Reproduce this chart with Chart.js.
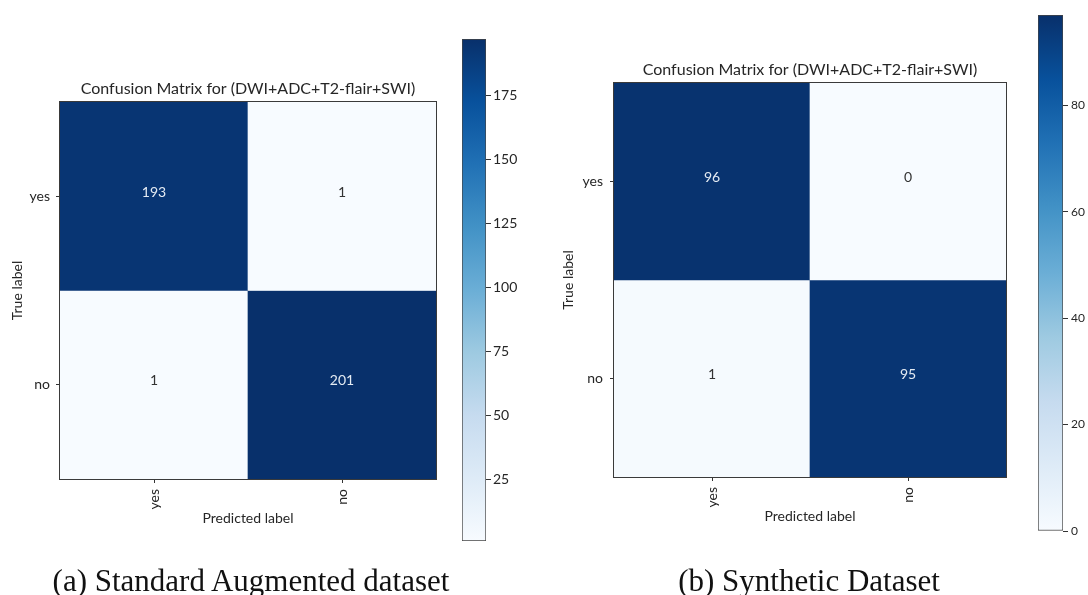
<!DOCTYPE html>
<html>
<head>
<meta charset="utf-8">
<script src="https://cdn.jsdelivr.net/npm/chart.js@4.4.1/dist/chart.umd.min.js"></script>
<style>
  html, body { margin: 0; padding: 0; background: #fff; overflow: hidden; }
  #page { position: relative; width: 1088px; height: 595px; overflow: hidden; background: #fff; }
  canvas { position: absolute; top: 0; }
  .cap { position: absolute; top: 565px; font-family: 'Liberation Serif', 'Times New Roman', serif;
         font-size: 31px; line-height: 31px; color: #111; white-space: nowrap; transform: translateX(-50%); }
</style>
</head>
<body>
<div id="page">
  <canvas id="cmA" width="1088" height="595" style="left:0"></canvas>
  <canvas id="cbA" width="110" height="595" style="left:440px"></canvas>
  <canvas id="cmB" width="1088" height="595" style="left:0"></canvas>
  <canvas id="cbB" width="120" height="595" style="left:1010px"></canvas>
  <div class="cap" style="left:251px">(a) Standard Augmented dataset</div>
  <div class="cap" style="left:809px">(b) Synthetic Dataset</div>
</div>
<script>
// ---- values ----
const predictedLabels = ['yes', 'no'];
const trueLabels = ['yes', 'no'];
const matrixStandard = [[193, 1], [1, 201]];
const matrixSynthetic = [[96, 0], [1, 95]];
const titleText = 'Confusion Matrix for (DWI+ADC+T2-flair+SWI)';
const colorbarRangeStandard = [1, 197];
const colorbarRangeSynthetic = [0, 97];
const colorbarTicksStandard = [25, 50, 75, 100, 125, 150, 175];
const colorbarTicksSynthetic = [0, 20, 40, 60, 80];

// ---- styling ----
const BLUES = ['#f7fbff', '#deebf7', '#c6dbef', '#9ecae1', '#6baed6',
               '#4292c6', '#2171b5', '#08519c', '#08306b'];
const FONT = 'Lato, "Open Sans", sans-serif';
const INK = '#262626';

function hexToRgb(h) {
  return [parseInt(h.slice(1, 3), 16), parseInt(h.slice(3, 5), 16), parseInt(h.slice(5, 7), 16)];
}
function blues(t) {
  t = Math.max(0, Math.min(1, t));
  const pos = t * (BLUES.length - 1);
  const i = Math.min(Math.floor(pos), BLUES.length - 2);
  const f = pos - i;
  const a = hexToRgb(BLUES[i]), b = hexToRgb(BLUES[i + 1]);
  const c = a.map((v, k) => Math.round(v + (b[k] - v) * f));
  return `rgb(${c[0]},${c[1]},${c[2]})`;
}
function norm(v, range) { return Math.max(0, Math.min(1, (v - range[0]) / (range[1] - range[0]))); }

// numbers written in the middle of each cell
const cellText = {
  id: 'cellText',
  afterDatasetsDraw(chart) {
    const ctx = chart.ctx;
    ctx.save();
    ctx.font = `14px ${FONT}`;
    ctx.textAlign = 'center';
    ctx.textBaseline = 'middle';
    chart.data.datasets.forEach((ds, i) => {
      chart.getDatasetMeta(i).data.forEach((el, j) => {
        const v = ds.counts[j];
        ctx.fillStyle = norm(v, ds.range) > 0.5 ? '#e4ebf3' : '#333';
        ctx.fillText(String(v), el.x, (el.y + el.base) / 2 - 4);
      });
    });
    ctx.restore();
  }
};

// thin box around the plotting area
const frame = {
  id: 'frame',
  afterDatasetsDraw(chart) {
    const a = chart.chartArea, ctx = chart.ctx;
    ctx.save();
    ctx.strokeStyle = '#3a3a3a';
    ctx.lineWidth = 1;
    ctx.strokeRect(Math.round(a.left) - 0.5, Math.round(a.top) - 0.5,
                   Math.round(a.right - a.left) + 1, Math.round(a.bottom - a.top) + 1);
    ctx.restore();
  }
};

function matrixChart(id, matrix, range, box) {
  const yW = box.yW, xH = 48, titleH = 16 * 1.2 + 4;
  const datasets = trueLabels.map((t, r) => ({
    label: t,
    data: predictedLabels.map(() => [r, r + 1]),
    counts: matrix[r],
    range: range,
    backgroundColor: matrix[r].map(v => blues(norm(v, range))),
    borderWidth: 0,
    grouped: false,
    barPercentage: 1,
    categoryPercentage: 1
  }));
  return new Chart(document.getElementById(id), {
    type: 'bar',
    data: { labels: predictedLabels, datasets },
    plugins: [cellText, frame],
    options: {
      responsive: false,
      animation: false,
      events: [],
      layout: {
        padding: { left: box.l - yW, top: box.t - titleH, right: 1088 - box.r, bottom: 595 - box.b - xH }
      },
      plugins: {
        legend: { display: false },
        tooltip: { enabled: false },
        title: {
          display: true, text: titleText, fullSize: false, color: INK,
          font: { family: FONT, size: 16, weight: 'normal' },
          padding: { top: 0, bottom: 4 }
        }
      },
      scales: {
        x: {
          offset: true,
          afterFit: s => { s.height = xH; },
          ticks: { minRotation: 90, maxRotation: 90, padding: 6, color: INK, font: { family: FONT, size: 14 } },
          grid: { offset: false, drawOnChartArea: false, tickLength: 4, color: '#333' },
          border: { display: false },
          title: { display: true, text: 'Predicted label', color: INK, font: { family: FONT, size: 14 }, padding: 0 }
        },
        y: {
          min: 0, max: 2, reverse: true,
          afterBuildTicks: s => { s.ticks = trueLabels.map((_, i) => ({ value: i + 0.5 })); },
          afterFit: s => { s.width = yW; },
          ticks: { callback: (v, i) => trueLabels[i], padding: box.yPad, color: INK, font: { family: FONT, size: 14 } },
          grid: { drawOnChartArea: false, tickLength: 4, color: '#333' },
          border: { display: false },
          title: { display: true, text: 'True label', color: INK, font: { family: FONT, size: 14 },
                   padding: { top: box.tPad, bottom: 0 } }
        }
      }
    }
  });
}

function colorbarChart(id, range, ticks, box) {
  const canvas = document.getElementById(id);
  const cw = canvas.width;
  return new Chart(canvas, {
    type: 'bar',
    data: {
      labels: [''],
      datasets: [{
        data: [range],
        backgroundColor: c => {
          const chart = c.chart, y = chart.scales.y;
          if (!y || !chart.chartArea) return blues(0.5);
          const g = chart.ctx.createLinearGradient(0, y.getPixelForValue(range[0]), 0, y.getPixelForValue(range[1]));
          BLUES.forEach((col, i) => g.addColorStop(i / (BLUES.length - 1), col));
          return g;
        },
        borderColor: '#444',
        borderWidth: 1,
        borderSkipped: false,
        barPercentage: 1,
        categoryPercentage: 1
      }]
    },
    options: {
      responsive: false,
      animation: false,
      events: [],
      layout: { padding: { left: box.l - box.cx, top: box.t, right: cw - (box.r - box.cx) - box.yW, bottom: 595 - box.b } },
      plugins: { legend: { display: false }, tooltip: { enabled: false } },
      scales: {
        x: { display: false },
        y: {
          position: 'right', min: range[0], max: range[1],
          afterBuildTicks: s => { s.ticks = ticks.map(v => ({ value: v })); },
          afterFit: s => { s.width = box.yW; },
          ticks: { padding: box.pad, color: INK, font: { family: FONT, size: box.fs } },
          grid: { drawOnChartArea: false, tickLength: box.tl, color: '#333' },
          border: { display: false }
        }
      }
    }
  });
}

matrixChart('cmA', matrixStandard, colorbarRangeStandard, { l: 60, t: 102, r: 436, b: 479, yW: 54, yPad: 6, tPad: 3 });
matrixChart('cmB', matrixSynthetic, colorbarRangeSynthetic, { l: 614, t: 83, r: 1006, b: 477, yW: 54, yPad: 7, tPad: 0 });
colorbarChart('cbA', colorbarRangeStandard, colorbarTicksStandard, { cx: 440, l: 462, t: 39, r: 486, b: 541, yW: 40, pad: 2, fs: 14, tl: 5 });
colorbarChart('cbB', colorbarRangeSynthetic, colorbarTicksSynthetic, { cx: 1010, l: 1038, t: 15, r: 1063, b: 531, yW: 50, pad: 3, fs: 12, tl: 5 });
</script>
</body>
</html>
